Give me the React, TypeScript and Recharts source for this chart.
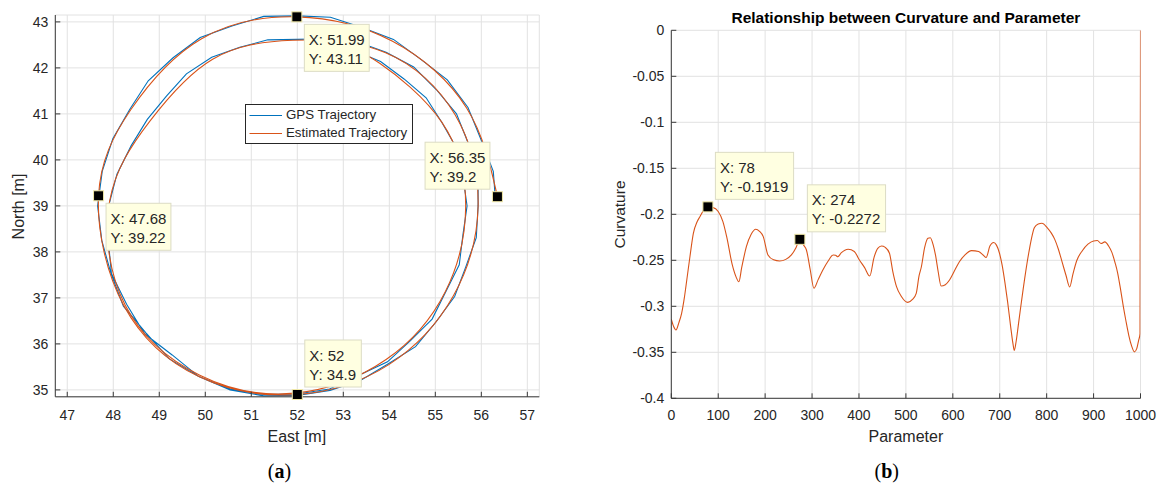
import React from 'react';
import {
  ComposedChart,
  Line,
  XAxis,
  YAxis,
  CartesianGrid,
  ReferenceDot,
  Legend,
} from 'recharts';

const FONT = "'Liberation Sans', Arial, Helvetica, sans-serif";
const SERIF = "'Liberation Serif', 'DejaVu Serif', serif";
const INK = '#262626';
const AXIS = '#3a3a3a';
const GRID = '#e2e2e2';
const BLUE = '#0072BD';
const ORANGE = '#D95319';

// ---- trajectory (panel a), metres, in driving order ----
const gpsEast = [
  56.3, 56.26, 55.99, 55.71, 55.26, 54.68, 54.09, 53.41, 52.72, 52.0,
  51.27, 50.58, 49.89, 49.3, 48.76, 48.36, 47.99, 47.76, 47.66, 47.75,
  47.95, 48.22, 48.71, 49.21, 49.86, 50.54, 51.27, 52.0, 52.71, 53.38,
  53.98, 54.57, 55.01, 55.42, 55.66, 55.89, 55.93, 55.93, 55.72, 55.46,
  55.02, 54.53, 53.93, 53.3, 52.64, 52.0, 51.36, 50.75, 50.14, 49.59,
  49.16, 48.74, 48.39, 48.08, 47.9, 47.89, 47.96, 48.29, 48.68, 49.28,
  49.86, 50.55, 51.28, 52.0, 52.7, 53.34, 53.96, 54.46, 54.93, 55.23,
  55.52, 55.6, 55.69, 55.6, 55.46, 55.14, 54.8, 54.32, 53.81, 53.23,
];
const gpsNorth = [
  39.22, 39.75, 40.45, 41.14, 41.74, 42.19, 42.62, 42.88, 43.1, 43.13,
  43.12, 42.91, 42.66, 42.22, 41.72, 41.1, 40.46, 39.75, 39.0, 38.25,
  37.53, 36.82, 36.24, 35.68, 35.29, 35.0, 34.87, 34.88, 34.99, 35.21,
  35.57, 35.94, 36.47, 37.03, 37.67, 38.31, 39.0, 39.69, 40.35, 41.0,
  41.53, 42.02, 42.34, 42.57, 42.63, 42.62, 42.61, 42.45, 42.23, 41.87,
  41.39, 40.88, 40.31, 39.69, 39.0, 38.27, 37.53, 36.86, 36.22, 35.76,
  35.29, 35.02, 34.9, 34.91, 35.02, 35.32, 35.61, 36.07, 36.54, 37.14,
  37.72, 38.37, 39.0, 39.64, 40.26, 40.82, 41.35, 41.76, 42.14, 42.38,
];
const estEast = [
  56.35, 55.68, 54.07, 51.99, 49.91, 48.38, 47.68, 48.23, 49.86, 52.0,
  53.99, 55.39, 55.93, 55.43, 53.92, 51.9, 50.16, 48.8, 47.92, 48.26,
  49.88, 51.95, 53.93, 55.22, 55.66, 55.14, 53.79, 53.22,
];
const estNorth = [
  39.2, 41.13, 42.58, 43.11, 42.63, 41.09, 39.22, 36.83, 35.29, 34.9,
  35.55, 37.04, 39.0, 40.98, 42.33, 42.6, 42.19, 40.85, 39.1, 36.84,
  35.32, 34.93, 35.66, 37.14, 39.0, 40.82, 42.1, 42.36,
];
const eastTicks = [47, 48, 49, 50, 51, 52, 53, 54, 55, 56, 57];
const northTicks = [35, 36, 37, 38, 39, 40, 41, 42, 43];
const trackNames = ['GPS Trajectory', 'Estimated Trajectory'];

// ---- curvature (panel b) ----
const curveParam = [
  0, 5, 10, 16, 22, 28, 33, 40, 47, 55, 61, 70, 78, 88, 100, 110, 118, 130,
  138, 144, 150, 160, 170, 180, 188, 196, 206, 218, 231, 244, 256, 266, 274,
  282, 288, 296, 304, 313, 323, 334, 345, 350, 355, 362, 377, 390, 401, 412,
  423, 432, 440, 448, 456, 465, 472, 480, 490, 504, 514, 522, 528, 533, 540,
  547, 552, 558, 563, 569, 575, 584, 593, 603, 614, 626, 640, 655, 665, 671,
  679, 687, 693, 699, 705, 711, 717, 723, 728, 731, 735, 741, 750, 762, 774,
  782, 790, 801, 810, 817, 825, 833, 841, 849, 856, 864, 876, 888, 900, 908,
  916, 924, 932, 939, 946, 951, 957, 963, 969, 975, 981, 987, 992, 996, 999,
  1000,
];
const curveValue = [
  -0.314, -0.322, -0.3257, -0.318, -0.3076, -0.29, -0.2714, -0.245, -0.2207,
  -0.208, -0.2026, -0.195, -0.1919, -0.1925, -0.197, -0.208, -0.2243, -0.255,
  -0.268, -0.2733, -0.258, -0.2352, -0.222, -0.2163, -0.2185, -0.2243, -0.2442,
  -0.2495, -0.2508, -0.249, -0.2442, -0.236, -0.2272, -0.2335, -0.2388, -0.26,
  -0.2804, -0.271, -0.2605, -0.251, -0.2442, -0.2445, -0.2461, -0.242, -0.238,
  -0.2405, -0.2497, -0.258, -0.2671, -0.247, -0.237, -0.2345, -0.236, -0.2424,
  -0.262, -0.2787, -0.289, -0.2957, -0.2925, -0.2859, -0.267, -0.257, -0.236,
  -0.2261, -0.2255, -0.233, -0.2442, -0.263, -0.278, -0.2765, -0.2714, -0.262,
  -0.2515, -0.244, -0.2395, -0.2405, -0.2445, -0.247, -0.2345, -0.2306,
  -0.2335, -0.2415, -0.255, -0.274, -0.296, -0.321, -0.34, -0.348, -0.338,
  -0.315, -0.281, -0.2415, -0.2144, -0.2105, -0.2097, -0.2144, -0.2205,
  -0.227, -0.238, -0.252, -0.266, -0.279, -0.265, -0.2505, -0.2396, -0.2325,
  -0.229, -0.2285, -0.2317, -0.23, -0.2345, -0.2414, -0.253, -0.263, -0.28,
  -0.299, -0.316, -0.3315, -0.343, -0.3495, -0.346, -0.337, -0.33, 0,
];
const paramTicks = [0, 100, 200, 300, 400, 500, 600, 700, 800, 900, 1000];
const curvatureTicks = [0, -0.05, -0.1, -0.15, -0.2, -0.25, -0.3, -0.35, -0.4];

// data cursors
const trajectoryTips = [
  { x: 51.99, y: 43.11 },
  { x: 47.68, y: 39.22 },
  { x: 56.35, y: 39.2 },
  { x: 52, y: 34.9 },
];
const curvatureTips = [
  { x: 78, y: -0.1919 },
  { x: 274, y: -0.2272 },
];

const gpsTrack = gpsEast.map((x, i) => ({ x, y: gpsNorth[i] }));
const estTrack = estEast.map((x, i) => ({ x, y: estNorth[i] }));
const curvature = curveParam.map((x, i) => ({ x, y: curveValue[i] }));
const trackColors = [BLUE, ORANGE];

// which side of the marker each cursor box sits on
const trajectoryTipDir = ['dr', 'dr', 'ul', 'ur'];
const curvatureTipDir = ['ur', 'ur'];

const CHAR_W: Record<string, number> = { '.': 4.17, ':': 4.17, ' ': 4.17, '-': 5, X: 10, Y: 10 };
const textWidth = (s: string) => s.split('').reduce((w, c) => w + (CHAR_W[c] ?? 8.34), 0);

const DataTip = (props: any) => {
  const { cx, cy, tx, ty, dir } = props;
  const lines = [`X: ${tx}`, `Y: ${ty}`];
  const w = Math.max(...lines.map(textWidth)) + 9;
  const h = 47;
  const gap = 7.5;
  const bx = dir === 'ul' ? cx - gap - w : cx + gap;
  const by = dir === 'dr' ? cy + gap : cy - gap - h;
  return (
    <g>
      <rect x={bx} y={by} width={w} height={h} fill="#ffffe1" stroke="#dcdcc4" strokeWidth={1} />
      <text x={bx + 4.5} y={by + 20.5} fontFamily={FONT} fontSize={15} fill={INK}>
        {lines[0]}
      </text>
      <text x={bx + 4.5} y={by + 39.5} fontFamily={FONT} fontSize={15} fill={INK}>
        {lines[1]}
      </text>
      <rect x={cx - 5} y={cy - 5} width={10} height={10} fill="#000" stroke="#f0e8a8" strokeWidth={1} />
    </g>
  );
};

const TrajectoryLegend = () => (
  <div
    style={{
      position: 'relative',
      width: 168,
      height: 40,
      boxSizing: 'border-box',
      border: `1px solid ${INK}`,
      background: '#fff',
      fontFamily: FONT,
      fontSize: 13.3,
      color: INK,
    }}
  >
    <svg width={40} height={38} style={{ position: 'absolute', left: 0, top: 0 }}>
      {trackColors.map((c, i) => (
        <line key={c} x1={3.5} x2={36} y1={10.5 + i * 18} y2={10.5 + i * 18} stroke={c} strokeWidth={1.2} />
      ))}
    </svg>
    {trackNames.map((name, i) => (
      <div
        key={name}
        style={{ position: 'absolute', left: 40.5, top: 2.5 + i * 18, lineHeight: '16px', whiteSpace: 'nowrap' }}
      >
        {name}
      </div>
    ))}
  </div>
);

const tickStyle = { fill: INK, fontSize: 14, fontFamily: FONT };

const TrajectoryChart = () => (
  <ComposedChart width={580} height={486} margin={{ top: 15, right: 40.7, bottom: 59.2, left: 0 }}>
    <CartesianGrid stroke={GRID} strokeWidth={1} />
    <XAxis
      type="number"
      dataKey="x"
      domain={[46.74, 57.26]}
      allowDataOverflow
      ticks={eastTicks}
      interval={0}
      height={30}
      tickSize={-5}
      tickMargin={18}
      axisLine={{ stroke: AXIS }}
      tickLine={{ stroke: AXIS }}
      tick={tickStyle}
    />
    <YAxis
      type="number"
      dataKey="y"
      domain={[34.85, 43.15]}
      allowDataOverflow
      ticks={northTicks}
      interval={0}
      width={55.3}
      tickSize={-5}
      tickMargin={12}
      axisLine={{ stroke: AXIS }}
      tickLine={{ stroke: AXIS }}
      tick={tickStyle}
    />
    <Line
      data={gpsTrack}
      dataKey="y"
      name={trackNames[0]}
      type="linear"
      stroke={BLUE}
      strokeWidth={1.1}
      dot={false}
      activeDot={false}
      isAnimationActive={false}
    />
    <Line
      data={estTrack}
      dataKey="y"
      name={trackNames[1]}
      type="natural"
      stroke={ORANGE}
      strokeWidth={1.1}
      dot={false}
      activeDot={false}
      isAnimationActive={false}
    />
    {trajectoryTips.map((t, i) => (
      <ReferenceDot
        key={`tip-${i}`}
        x={t.x}
        y={t.y}
        r={5}
        shape={(p: any) => <DataTip {...p} tx={t.x} ty={t.y} dir={trajectoryTipDir[i]} />}
      />
    ))}
    <Legend
      layout="vertical"
      align="center"
      verticalAlign="middle"
      wrapperStyle={{ left: 244.5, top: 103.5, width: 168, height: 40 }}
      content={<TrajectoryLegend />}
    />
    <text x={296.8} y={441.5} textAnchor="middle" fontFamily={FONT} fontSize={16} fill={INK}>
      East [m]
    </text>
    <text transform="translate(24 206.5) rotate(-90)" textAnchor="middle" fontFamily={FONT} fontSize={16} fill={INK}>
      North [m]
    </text>
    <text x={279.5} y={478} textAnchor="middle" fontFamily={SERIF} fontSize={20} fill="#000">
      <tspan>(</tspan>
      <tspan fontWeight="bold">a</tspan>
      <tspan>)</tspan>
    </text>
  </ComposedChart>
);

const CurvatureChart = () => (
  <ComposedChart width={580} height={486} margin={{ top: 30.3, right: 19.5, bottom: 57.7, left: 0 }}>
    <CartesianGrid stroke={GRID} strokeWidth={1} />
    <XAxis
      type="number"
      dataKey="x"
      domain={[0, 1000]}
      allowDataOverflow
      ticks={paramTicks}
      interval={0}
      height={30}
      tickSize={-5}
      tickMargin={17}
      axisLine={{ stroke: AXIS }}
      tickLine={{ stroke: AXIS }}
      tick={tickStyle}
    />
    <YAxis
      type="number"
      dataKey="y"
      domain={[-0.4, 0]}
      allowDataOverflow
      ticks={curvatureTicks}
      interval={0}
      width={91.3}
      tickSize={-5}
      tickMargin={12}
      axisLine={{ stroke: AXIS }}
      tickLine={{ stroke: AXIS }}
      tick={tickStyle}
    />
    <Line
      data={curvature}
      dataKey="y"
      name="Curvature"
      type="monotone"
      stroke={ORANGE}
      strokeWidth={1.1}
      dot={false}
      activeDot={false}
      isAnimationActive={false}
    />
    {curvatureTips.map((t, i) => (
      <ReferenceDot
        key={`ctip-${i}`}
        x={t.x}
        y={t.y}
        r={5}
        shape={(p: any) => <DataTip {...p} tx={t.x} ty={t.y} dir={curvatureTipDir[i]} />}
      />
    ))}
    <text x={325.9} y={23} textAnchor="middle" fontFamily={FONT} fontSize={15.5} fontWeight="bold" fill="#000">
      Relationship between Curvature and Parameter
    </text>
    <text x={325.9} y={441.5} textAnchor="middle" fontFamily={FONT} fontSize={16} fill={INK}>
      Parameter
    </text>
    <text transform="translate(44.5 214.5) rotate(-90)" textAnchor="middle" fontFamily={FONT} fontSize={15.5} fill={INK}>
      Curvature
    </text>
    <text x={306.8} y={478} textAnchor="middle" fontFamily={SERIF} fontSize={20} fill="#000">
      <tspan>(</tspan>
      <tspan fontWeight="bold">b</tspan>
      <tspan>)</tspan>
    </text>
  </ComposedChart>
);

export default function App() {
  return (
    <div style={{ position: 'absolute', left: 0, top: 0, width: 1160, height: 486, background: '#fff' }}>
      <div style={{ position: 'absolute', left: 0, top: 0 }}>
        <TrajectoryChart />
      </div>
      <div style={{ position: 'absolute', left: 580, top: 0 }}>
        <CurvatureChart />
      </div>
    </div>
  );
}
